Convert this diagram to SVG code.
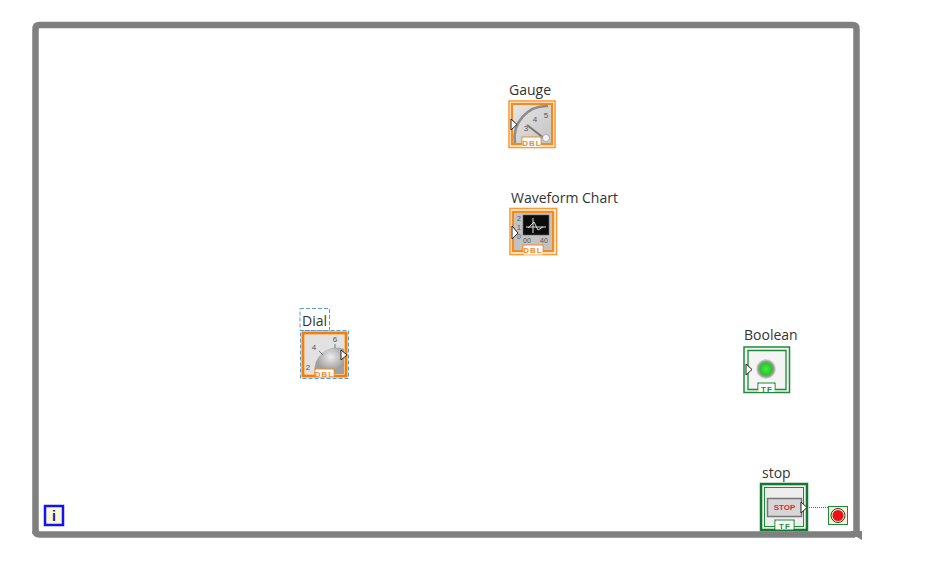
<svg xmlns="http://www.w3.org/2000/svg" width="931" height="576" viewBox="0 0 931 576">
<style>
.lbl{font-family:"Open Sans","Liberation Sans",sans-serif;font-size:14px;fill:#333}
.tag{font-family:"Liberation Sans",sans-serif;font-weight:bold;font-size:8px;letter-spacing:1px;text-anchor:middle}
.or{fill:none;stroke:#ff9a33;stroke-width:1.6}
.orb{fill:none;stroke:#f58a1f;stroke-width:2.600}
.gr{fill:none;stroke:#1f8a3a;stroke-width:1.500}
.num{font-family:"Liberation Sans",sans-serif;font-size:8px;fill:#555;text-anchor:middle}
.term{fill:#fff;stroke:#222;stroke-width:1}
</style>
<defs>
<linearGradient id="face" x1="0" y1="0" x2="1" y2="1"><stop offset="0" stop-color="#e6e6e6"/><stop offset="1" stop-color="#c4c4c4"/></linearGradient>
<radialGradient id="led"><stop offset="0" stop-color="#4fe84f"/><stop offset=".55" stop-color="#22cc22"/><stop offset=".75" stop-color="#8a9a8a"/><stop offset="1" stop-color="#e2e2e2"/></radialGradient>
<radialGradient id="dome" cx=".55" cy=".35"><stop offset="0" stop-color="#ececec"/><stop offset="1" stop-color="#a0a0a0"/></radialGradient>
</defs>
<rect width="931" height="576" fill="#fff"/>
<g id="loop">
<path d="M35.500 534V29Q35.500 25 39.500 25H852Q856.500 25 856.500 29V531" fill="none" stroke="#808080" stroke-width="6.500"/>
<path d="M35.500 531Q35.500 534.500 39.500 534.500H855" fill="none" stroke="#808080" stroke-width="6.500"/>
<path d="M851 531H862V540L857 537H851Z" fill="#808080"/>
</g>
<g id="gauge">
<text class="lbl" x="509" y="95">Gauge</text>
<rect class="or" x="509" y="101" width="46" height="46.500"/>
<rect class="orb" x="512" y="104" width="40" height="40"/>
<rect x="513" y="105" width="38" height="38" fill="url(#face)"/>
<path d="M515 143A32 32 0 0 1 548 106" fill="none" stroke="#8c8c8c" stroke-width="2.500"/>
<text class="num" x="526" y="131">3</text><text class="num" x="535" y="122">4</text><text class="num" x="546" y="118">5</text>
<path d="M527 125L545 139" stroke="#777" stroke-width="2"/>
<circle cx="546" cy="138" r="3.500" fill="#f4f4f4" stroke="#999" stroke-width=".7"/>
<path class="term" d="M511 119L517 124.500L511 130Z"/>
<path d="M522 144V137H541V144" fill="#fff" stroke="#f58a1f" stroke-width="1.200"/>
<rect x="522.600" y="138" width="17.800" height="9" fill="#fff"/>
<text class="tag" x="532" y="145.500" fill="#f58a1f">DBL</text>
</g>
<g id="waveform-chart">
<text class="lbl" x="511" y="203">Waveform Chart</text>
<rect class="or" x="510" y="208.500" width="46.500" height="46"/>
<rect class="orb" x="513" y="212" width="40" height="39"/>
<rect x="514" y="213" width="38" height="37" fill="#c2c2c2"/>
<rect x="523" y="215" width="26" height="20" fill="#0c0c0c" stroke="#666" stroke-width=".6"/>
<path d="M526 227H546M533 218V233M528 228L534 222L538 230L543 227" stroke="#ddd" stroke-width="1" fill="none"/>
<text class="num" x="519" y="221" font-size="7" style="font-size:7px">2</text><text class="num" x="519" y="230" style="font-size:7px">1</text><text class="num" x="519" y="239" style="font-size:7px">0</text>
<text class="num" x="527" y="243" style="font-size:7px">00</text><text class="num" x="544" y="243" style="font-size:7px">40</text>
<path class="term" d="M512 226L518 233L512 239Z"/>
<path d="M523 251V245H543V251" fill="#fff" stroke="#f58a1f" stroke-width="1.200"/>
<rect x="523.600" y="246" width="18.800" height="8.500" fill="#fff"/>
<text class="tag" x="533" y="253" fill="#f58a1f">DBL</text>
</g>
<g id="dial">
<rect x="300" y="308.500" width="29.500" height="22" fill="#fff" stroke="#5b9bd5" stroke-width="1" stroke-dasharray="4 2"/>
<text class="lbl" x="302" y="326">Dial</text>
<rect x="300.500" y="330.500" width="48" height="48" fill="none" stroke="#5b9bd5" stroke-width="1" stroke-dasharray="4 2"/>
<rect x="303" y="333" width="43" height="43" fill="none" stroke="#f07f0c" stroke-width="3"/>
<rect x="305" y="335" width="39" height="39" fill="#e2e2e2"/>
<path d="M315 374A22 22 0 0 1 344 349V374Z" fill="url(#dome)"/>
<path d="M319 351L323 355M335 344V348" stroke="#777" stroke-width="1"/>
<text class="num" x="314" y="350">4</text><text class="num" x="335" y="342">6</text><text class="num" x="308" y="370">2</text>
<path class="term" d="M341 350L347 355L341 360Z"/>
<path d="M315 376V369H334V376" fill="#fff" stroke="#f58a1f" stroke-width="1.200"/>
<rect x="315.600" y="370" width="17.800" height="7" fill="#fff"/>
<text class="tag" x="324.500" y="376.500" fill="#f58a1f">DBL</text>
</g>
<g id="boolean">
<text class="lbl" x="744" y="340">Boolean</text>
<rect x="744" y="347" width="45.500" height="45.500" fill="#f4f4f4" stroke="#1f8a3a" stroke-width="1.500"/>
<path d="M759 389.500H748V350.500H786V389.500H774" fill="none" stroke="#1f8a3a" stroke-width="1.300"/>
<circle cx="766" cy="369" r="10" fill="url(#led)"/>
<path class="term" d="M746 364L752 369.500L746 375Z"/>
<path d="M758 390V383H775V390" fill="#fff" stroke="#1f8a3a" stroke-width="1.200"/>
<rect x="758.600" y="384" width="15.800" height="8" fill="#fff"/>
<text class="tag" x="767" y="391.500" fill="#1f8a3a">TF</text>
</g>
<g id="stop">
<text class="lbl" x="762" y="478">stop</text>
<rect x="761" y="484" width="46" height="46" fill="#eee" stroke="#117a2c" stroke-width="2.500"/>
<rect x="764.500" y="487.500" width="39" height="39" fill="none" stroke="#1f8a3a" stroke-width="1"/>
<rect x="767.500" y="498.500" width="34" height="18" fill="#d6d6d6" stroke="#777" stroke-width="1.500"/>
<text x="784.500" y="510" font-family="Liberation Sans,sans-serif" font-weight="bold" font-size="8px" fill="#f02030" text-anchor="middle">STOP</text>
<path class="term" d="M801 502L807 507.500L801 513Z"/>
<path d="M775 529V520H794V529" fill="#fff" stroke="#1f8a3a" stroke-width="1.200"/>
<rect x="775.600" y="521" width="17.800" height="8.500" fill="#fff"/>
<text class="tag" x="785" y="528.500" fill="#1f8a3a">TF</text>
</g>
<g id="loop-condition">
<rect x="828.500" y="506.500" width="19" height="18" fill="#f7f3d8" stroke="#1f8a3a" stroke-width="1"/>
<circle cx="838" cy="515.500" r="7" fill="none" stroke="#333" stroke-width="1"/>
<circle cx="838" cy="515.500" r="5.500" fill="#ee1111"/>
</g>
<g id="iteration">
<rect x="45" y="506" width="18" height="19" fill="#fbf8d6" stroke="#1414f0" stroke-width="2.500"/>
<text x="54" y="521" font-family="Liberation Sans,sans-serif" font-weight="bold" font-size="14px" fill="#1414c8" text-anchor="middle">i</text>
</g>
<g id="connectors">
<path d="M807 507.500H828" fill="none" stroke="#1f8a3a" stroke-width="1" stroke-dasharray="1 1"/>
</g>
</svg>
